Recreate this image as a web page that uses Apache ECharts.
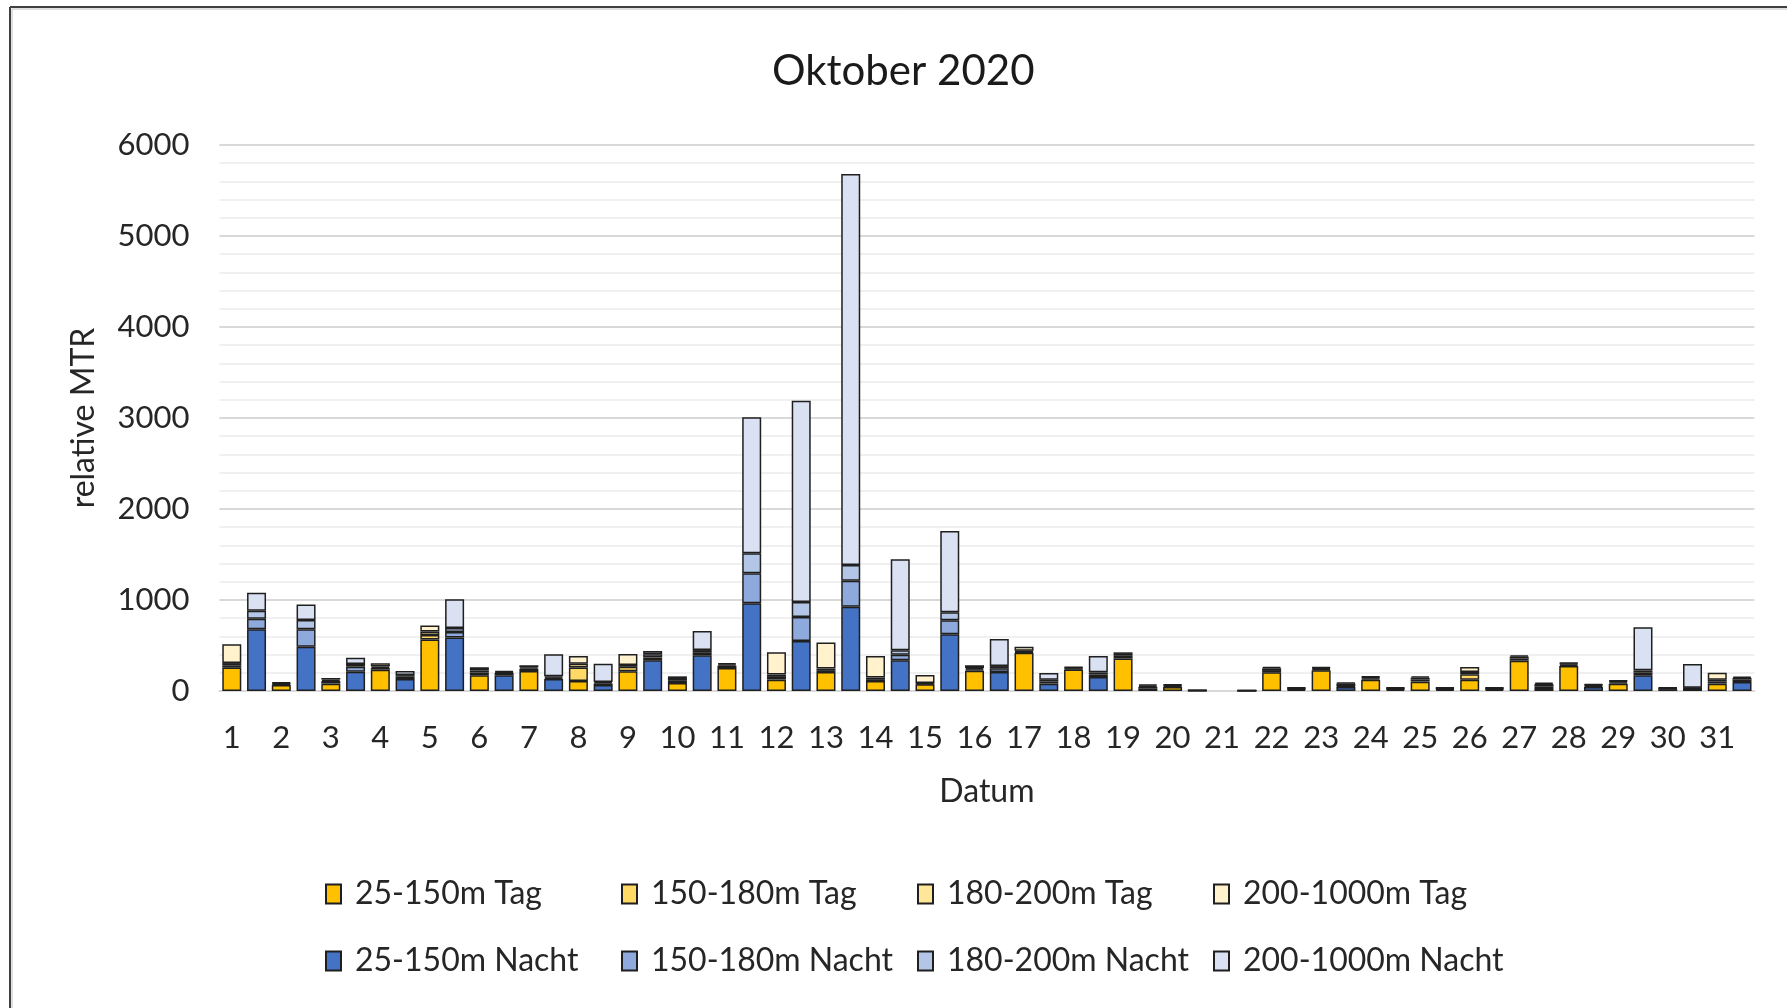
<!DOCTYPE html>
<html>
<head>
<meta charset="utf-8">
<script src="https://cdn.jsdelivr.net/npm/echarts@6/dist/echarts.min.js"></script>
<style>
html,body{margin:0;padding:0;background:#fff;}
#chart{width:1787px;height:1008px;}
</style>
</head>
<body>
<div id="chart"></div>
<script>
// ---- data (per day, 1..31) ----
const days = ['1','2','3','4','5','6','7','8','9','10','11','12','13','14','15','16','17','18','19','20','21','22','23','24','25','26','27','28','29','30','31'];

const tag25_150   = [257,66,81,234,565,173,220,110,216,88,253,125,209,110,74,223,421,235,357,44,null,205,227,125,103,125,333,275,81,20,81];
const tag150_180  = [25,12,30,20,50,30,25,147,50,24,25,30,20,20,8,15,10,12,30,12,null,25,15,15,25,60,25,15,15,8,25];
const tag180_200  = [25,8,15,15,40,24,15,43,20,20,15,25,17,17,6,15,10,9,20,10,null,20,12,12,18,25,20,12,12,6,19];
const tag200_1000 = [206,10,17,35,64,33,23,85,121,29,15,245,286,238,88,30,46,8,18,8,null,14,10,9,15,55,14,9,9,6,76];

const nacht25_150   = [678,487,212,132,587,173,132,66,337,392,964,550,926,337,623,209,81,154,25,4,3,14,44,14,14,14,22,44,173,25,99];
const nacht150_180  = [116,191,55,25,62,25,15,18,30,33,329,263,286,60,154,40,24,28,20,2,1,10,8,10,10,10,25,13,32,5,25];
const nacht180_200  = [88,102,30,18,44,10,14,15,36,25,220,165,173,50,88,25,20,23,15,1,1,8,30,8,8,8,30,10,22,5,20];
const nacht200_1000 = [198,170,69,45,315,12,242,201,37,210,1495,2212,4297,1000,893,297,73,180,14,1,1,8,10,8,8,8,15,10,473,262,14];

const yTicks = [0,1000,2000,3000,4000,5000,6000];

const seriesNames = ['25-150m Tag','150-180m Tag','180-200m Tag','200-1000m Tag','25-150m Nacht','150-180m Nacht','180-200m Nacht','200-1000m Nacht'];
const seriesColors = ['#FFC000','#FFD966','#FFE699','#FFF2CC','#4472C4','#8EA9DB','#B4C6E7','#D9E1F2'];

// ---- build 62 categories (Tag, Nacht per day) ----
const categories = [];
days.forEach(d => { categories.push(d + ' Tag'); categories.push(d + ' Nacht'); });

function interleave(arr, isTag) {
  const out = [];
  arr.forEach(v => {
    if (isTag) { out.push(v); out.push(null); }
    else { out.push(null); out.push(v); }
  });
  return out;
}
const rawSeries = [tag25_150, tag150_180, tag180_200, tag200_1000, nacht25_150, nacht150_180, nacht180_200, nacht200_1000];

const FONT = 'Lato';
const TXT = '#262626';

const series = rawSeries.map((arr, i) => ({
  name: seriesNames[i],
  type: 'bar',
  stack: 'all',
  barWidth: 19,
  data: interleave(arr, i < 4),
  itemStyle: { color: seriesColors[i], borderColor: '#1f1f1f', borderWidth: 1.5 },
  emphasis: { disabled: true }
}));

// one legend per item in a 4x2 grid
const legends = seriesNames.map((n, i) => ({
  data: [n],
  left: 325 + (i % 4) * 296,
  top: i < 4 ? 878 : 945,
  padding: 0,
  itemWidth: 15, itemHeight: 19,
  icon: 'rect',
  selectedMode: false,
  textStyle: { fontFamily: FONT, fontSize: 32, color: TXT, padding: [0, 0, 0, 9] }
}));

const chart = echarts.init(document.getElementById('chart'));
chart.setOption({
  animation: false,
  backgroundColor: '#ffffff',
  title: {
    text: 'Oktober 2020',
    left: 767,
    top: 45,
    textStyle: { fontFamily: FONT, fontSize: 42, fontWeight: 'normal', color: '#1a1a1a' }
  },
  grid: { left: 219.4, right: 32.6, top: 145, bottom: 317, containLabel: false, outerBoundsMode: 'none' },
  xAxis: {
    type: 'category',
    data: categories,
    name: 'Datum',
    nameLocation: 'middle',
    nameGap: 85,
    nameTextStyle: { fontFamily: FONT, fontSize: 32, color: TXT },
    axisLine: { show: true, lineStyle: { color: '#d9d9d9', width: 2 } },
    axisTick: { show: false },
    axisLabel: {
      interval: 0,
      margin: 31,
      fontFamily: FONT, fontSize: 31, color: TXT,
      formatter: v => v.endsWith(' Tag') ? v.split(' ')[0] : ''
    },
    splitLine: { show: false }
  },
  yAxis: {
    type: 'value',
    min: yTicks[0],
    max: yTicks[yTicks.length - 1],
    interval: 1000,
    name: 'relative MTR',
    nameLocation: 'middle',
    nameGap: 120,
    nameTextStyle: { fontFamily: FONT, fontSize: 32, color: TXT },
    axisLine: { show: false },
    axisTick: { show: false },
    axisLabel: { margin: 30, fontFamily: FONT, fontSize: 31, color: TXT, formatter: v => String(v) },
    splitLine: { show: true, lineStyle: { color: '#d9d9d9', width: 2 } },
    minorTick: { show: false, splitNumber: 5 },
    minorSplitLine: { show: true, lineStyle: { color: '#f0f0f0', width: 2 } }
  },
  legend: legends,
  graphic: [
    { type: 'line', silent: true, shape: { x1: 10, y1: 7, x2: 1787, y2: 7 }, style: { stroke: '#404040', lineWidth: 2 } },
    { type: 'line', silent: true, shape: { x1: 10, y1: 7, x2: 10, y2: 1008 }, style: { stroke: '#404040', lineWidth: 2 } },
    { type: 'line', silent: true, shape: { x1: 12, y1: 9, x2: 1787, y2: 9 }, style: { stroke: '#c0c0c0', lineWidth: 1 } },
    { type: 'line', silent: true, shape: { x1: 12, y1: 9, x2: 12, y2: 1008 }, style: { stroke: '#c0c0c0', lineWidth: 1 } }
  ],
  series: series
});
</script>
</body>
</html>
